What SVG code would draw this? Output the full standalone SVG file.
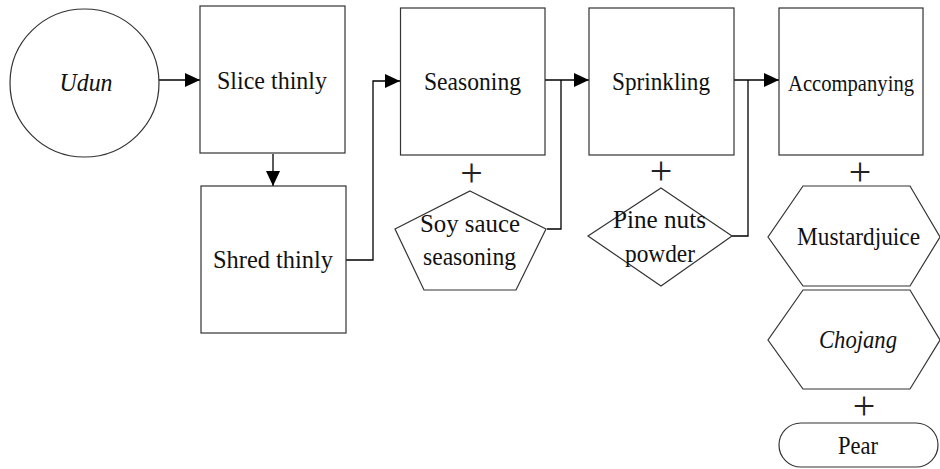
<svg xmlns="http://www.w3.org/2000/svg" width="940" height="469" viewBox="0 0 940 469">
  <style>
    .shape { fill: #ffffff; stroke: #333333; stroke-width: 1.2; }
    .wire { fill: none; stroke: #000000; stroke-width: 1.3; }
    .lbl { font-family: 'Liberation Serif', 'DejaVu Serif', serif; font-size: 26px; fill: #111111; text-anchor: middle; }
    .it { font-style: italic; }
    .plus { font-family: 'Liberation Serif', 'DejaVu Serif', serif; font-size: 40px; fill: #222222; text-anchor: middle; }
  </style>
  <defs>
    <marker id="arrow" viewBox="0 0 15 14" refX="15" refY="7" markerWidth="15" markerHeight="14" markerUnits="userSpaceOnUse" orient="auto">
      <path d="M0,0 L15,7 L0,14 Z" fill="#000000"/>
    </marker>
  </defs>
  <rect width="940" height="469" fill="#ffffff"/>

  <!-- connectors -->
  <g id="connectors">
    <line class="wire" x1="159" y1="80" x2="200" y2="80" marker-end="url(#arrow)"/>
    <line class="wire" x1="273" y1="154" x2="273" y2="186" marker-end="url(#arrow)"/>
    <polyline class="wire" points="346,260 373,260 373,81 400,81" marker-end="url(#arrow)"/>
    <line class="wire" x1="545" y1="80" x2="589" y2="80" marker-end="url(#arrow)"/>
    <polyline class="wire" points="547,229 561,229 561,80"/>
    <line class="wire" x1="734" y1="80" x2="779" y2="80" marker-end="url(#arrow)"/>
    <polyline class="wire" points="732,236 748,236 748,80"/>
  </g>

  <g id="udun">
    <ellipse class="shape" cx="84.5" cy="83" rx="74.5" ry="74"/>
    <text class="lbl it" x="86" y="91" textLength="53" lengthAdjust="spacingAndGlyphs">Udun</text>
  </g>

  <g id="slice">
    <rect class="shape" x="200" y="6" width="145" height="147"/>
    <text class="lbl" x="272" y="89" textLength="110" lengthAdjust="spacingAndGlyphs">Slice thinly</text>
  </g>

  <g id="shred">
    <rect class="shape" x="201" y="186" width="145" height="147"/>
    <text class="lbl" x="273" y="268" textLength="120" lengthAdjust="spacingAndGlyphs">Shred thinly</text>
  </g>

  <g id="seasoning">
    <rect class="shape" x="400.5" y="8" width="144.5" height="147"/>
    <text class="lbl" x="472.5" y="90" textLength="97" lengthAdjust="spacingAndGlyphs">Seasoning</text>
    <text class="plus" x="471.5" y="186">+</text>
  </g>

  <g id="soy-sauce">
    <polygon class="shape" points="470,191 546,229 516,290 424,290 395,229"/>
    <text class="lbl" x="470" y="232" textLength="100" lengthAdjust="spacingAndGlyphs">Soy sauce</text>
    <text class="lbl" x="469.5" y="265" textLength="93" lengthAdjust="spacingAndGlyphs">seasoning</text>
  </g>

  <g id="sprinkling">
    <rect class="shape" x="589" y="8" width="145" height="147"/>
    <text class="lbl" x="661" y="90" textLength="98" lengthAdjust="spacingAndGlyphs">Sprinkling</text>
    <text class="plus" x="661" y="184">+</text>
  </g>

  <g id="pine-nuts">
    <polygon class="shape" points="661,188 732,236 661,286 588,236"/>
    <text class="lbl" x="659.5" y="228" textLength="93" lengthAdjust="spacingAndGlyphs">Pine nuts</text>
    <text class="lbl" x="660" y="262" textLength="70" lengthAdjust="spacingAndGlyphs">powder</text>
  </g>

  <g id="accompanying">
    <rect class="shape" x="779" y="8" width="144" height="147"/>
    <text class="lbl" x="851" y="91" style="font-size:23px" textLength="126" lengthAdjust="spacingAndGlyphs">Accompanying</text>
    <text class="plus" x="860" y="185">+</text>
  </g>

  <g id="mustard">
    <polygon class="shape" points="803,186 910,186 940,237 910,286 803,286 768,237"/>
    <text class="lbl" x="858.5" y="245" textLength="123" lengthAdjust="spacingAndGlyphs">Mustardjuice</text>
  </g>

  <g id="chojang">
    <polygon class="shape" points="803,290 910,290 940,340 910,389 803,389 768,340"/>
    <text class="lbl it" x="858" y="348" textLength="78" lengthAdjust="spacingAndGlyphs">Chojang</text>
    <text class="plus" x="864" y="419">+</text>
  </g>

  <g id="pear">
    <rect class="shape" x="779" y="423" width="159" height="44" rx="22" ry="22"/>
    <text class="lbl" x="858" y="454" textLength="40" lengthAdjust="spacingAndGlyphs">Pear</text>
  </g>
</svg>
